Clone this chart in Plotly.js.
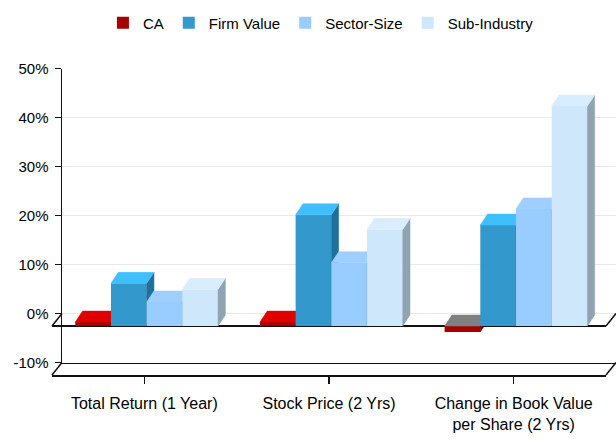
<!DOCTYPE html>
<html>
<head>
<meta charset="utf-8">
<script src="https://cdn.plot.ly/plotly-3.0.1.min.js"></script>
<style>html,body{margin:0;padding:0;background:#fff;}#chart{width:616px;height:441px;}</style>
</head>
<body>
<div id="chart"></div>
<script>
// ---------- DATA ----------
const categories = ['Total Return (1 Year)', 'Stock Price (2 Yrs)', 'Change in Book Value<br>per Share (2 Yrs)'];
const seriesNames = ['CA', 'Firm Value', 'Sector-Size', 'Sub-Industry'];
const caValues = [0.8, 0.8, -1.2];
const firmValues = [8.7, 22.7, 20.6];
const sectorValues = [4.9, 12.9, 23.9];
const subIndustryValues = [7.5, 19.7, 44.9];
const yTickVals = [-10, 0, 10, 20, 30, 40, 50];
const yTickText = ['-10%', '0%', '10%', '20%', '30%', '40%', '50%'];

// ---------- STYLE / GEOMETRY ----------
const W = 616, H = 441, MT = 60, MB = 56;
const PLOT_TOP = MT, PLOT_BOT = H - MB;
const fx = px => px / W;
const fy = py => (PLOT_BOT - py) / (PLOT_BOT - PLOT_TOP);
const FRONT = {x0: 52, x1: 606, yTop: 81, yBot: 375};
const BACK = {x0: 62, x1: 616, yTop: 68.5, yBot: 362.5};
const Y_RANGE = [-10, 50], X_RANGE = [-0.5, 2.5];
const pxPerX = (FRONT.x1 - FRONT.x0) / (X_RANGE[1] - X_RANGE[0]);
const pxPerY = (FRONT.yBot - FRONT.yTop) / (Y_RANGE[1] - Y_RANGE[0]);
const BAR_W = 35.7 / pxPerX, GROUP_OFF = -0.374;
const DX = 7.3 / pxPerX, DY = 11 / pxPerY;
const FONT = 'Liberation Sans, Arial, sans-serif';

const frontColors = ['#a80000', '#3399cc', '#99ccff', '#cfe7fb'];
const topColors = ['#e00000', '#40bfff', '#9fcfff', '#d8edfd'];
const sideColors = ['#700000', '#22709a', '#6f9cc8', '#8fa3b2'];
const negTopColor = '#808080';

const seriesValues = [caValues, firmValues, sectorValues, subIndustryValues];
const xIdx = categories.map((c, i) => i);

// placeholder trace so the back-plane subplot (grid + value axis) is drawn
const traces = [{type: 'scatter', mode: 'markers', x: [null], y: [null], xaxis: 'x', yaxis: 'y',
  showlegend: false, hoverinfo: 'skip'}];
seriesValues.forEach((vals, k) => {
  const xa = 'x' + (k + 2), ya = 'y' + (k + 2);
  traces.push({
    type: 'bar', name: seriesNames[k], x: xIdx, y: vals,
    width: BAR_W, offset: GROUP_OFF + k * BAR_W,
    marker: {color: frontColors[k], line: {width: 0}},
    xaxis: xa, yaxis: ya, hoverinfo: 'name+y'
  });
  const topX = [], topY = [], negX = [], negY = [], sideX = [], sideY = [];
  vals.forEach((v, i) => {
    const x0 = xIdx[i] + GROUP_OFF + k * BAR_W, x1 = x0 + BAR_W;
    const t = Math.max(v, 0), b = Math.min(v, 0);
    const tx = v >= 0 ? topX : negX, ty = v >= 0 ? topY : negY;
    tx.push(x0, x1, x1 + DX, x0 + DX, x0, null);
    ty.push(t, t, t + DY, t + DY, t, null);
    sideX.push(x1, x1, x1 + DX, x1 + DX, x1, null);
    sideY.push(b, t, t + DY, b + DY, b, null);
  });
  const poly = (x, y, c) => ({type: 'scatter', mode: 'lines', x: x, y: y, fill: 'toself',
    fillcolor: c, line: {color: c, width: 0.5}, showlegend: false, hoverinfo: 'skip',
    xaxis: xa, yaxis: ya});
  traces.push(poly(sideX, sideY, sideColors[k]));
  traces.push(poly(topX, topY, topColors[k]));
  if (negX.length) traces.push(poly(negX, negY, negTopColor));
});

const layout = {
  width: W, height: H,
  margin: {l: 0, r: 0, t: MT, b: MB, pad: 0},
  paper_bgcolor: '#ffffff', plot_bgcolor: 'rgba(0,0,0,0)',
  font: {family: FONT, size: 15, color: '#000'},
  showlegend: true,
  legend: {orientation: 'h', x: 0.521, xanchor: 'center', yref: 'container', y: 0.985, yanchor: 'top',
    font: {family: FONT, size: 15, color: '#000'}, bgcolor: 'rgba(0,0,0,0)', traceorder: 'normal'},
  // back plane: gridlines, value ticks
  xaxis: {domain: [fx(BACK.x0), fx(BACK.x1)], range: X_RANGE, anchor: 'y', showgrid: false, zeroline: false,
    showticklabels: false, ticks: '', showline: true, linecolor: '#111', linewidth: 1.5, fixedrange: true},
  yaxis: {domain: [fy(BACK.yBot), fy(BACK.yTop)], range: Y_RANGE, anchor: 'x', showgrid: true,
    gridcolor: '#e9e9e9', gridwidth: 1.5, zeroline: false, showline: true, linecolor: '#111', linewidth: 1.5,
    ticks: 'outside', ticklen: 6, tickcolor: '#111', tickwidth: 1.5, tickvals: yTickVals, ticktext: yTickText,
    ticklabelstandoff: 3, tickfont: {family: FONT, size: 15, color: '#000'}, fixedrange: true},
  // front plane: bars, floor lines, categories
  xaxis2: {domain: [fx(FRONT.x0), fx(FRONT.x1)], range: X_RANGE, anchor: 'y2', type: 'linear', showgrid: false,
    zeroline: false, showline: true, linecolor: '#111', linewidth: 1.5, ticks: 'outside', ticklen: 7,
    tickcolor: '#111', tickwidth: 1.5, tickvals: xIdx, ticktext: categories, ticklabelstandoff: 6,
    tickfont: {family: FONT, size: 16, color: '#000'}, layer: 'above traces', fixedrange: true},
  yaxis2: {domain: [fy(FRONT.yBot), fy(FRONT.yTop)], range: Y_RANGE, anchor: 'x2', showgrid: false,
    zeroline: true, zerolinecolor: '#111', zerolinewidth: 1.5, showticklabels: false, ticks: '',
    showline: false, layer: 'above traces', fixedrange: true},
  shapes: []
};
for (let k = 3; k <= 5; k++) {
  layout['xaxis' + k] = {overlaying: 'x2', range: X_RANGE, visible: false, type: 'linear', fixedrange: true, anchor: 'y' + k};
  layout['yaxis' + k] = {overlaying: 'y2', range: Y_RANGE, visible: false, fixedrange: true, anchor: 'x' + k};
}
// depth edges of the floor (axis decoration)
const frontZero = FRONT.yBot - (0 - Y_RANGE[0]) * pxPerY;
const backZero = BACK.yBot - (0 - Y_RANGE[0]) * pxPerY;
[[BACK.x0, backZero, FRONT.x0, frontZero], [BACK.x0, BACK.yBot, FRONT.x0, FRONT.yBot],
 [FRONT.x1, frontZero, BACK.x1, backZero], [FRONT.x1, FRONT.yBot, BACK.x1, BACK.yBot]].forEach(s => {
  layout.shapes.push({type: 'line', xref: 'paper', yref: 'paper', x0: fx(s[0]), y0: fy(s[1]), x1: fx(s[2]), y1: fy(s[3]),
    line: {color: '#111', width: 1.5}});
});

Plotly.newPlot('chart', traces, layout, {displayModeBar: false, staticPlot: true});
</script>
</body>
</html>
